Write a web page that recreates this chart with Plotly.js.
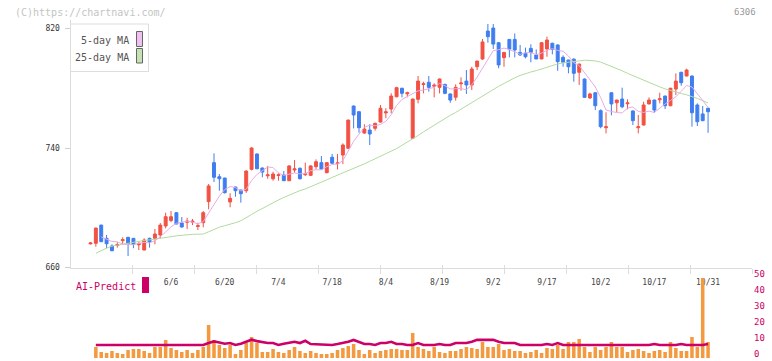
<!DOCTYPE html>
<html><head><meta charset="utf-8">
<script src="https://cdn.plot.ly/plotly-3.0.1.min.js"></script>
<style>html,body{margin:0;padding:0;background:#fff;}#chart{width:772px;height:361px;}</style>
</head><body><div id="chart"></div>
<script>
const dates = ["5/16","5/19","5/20","5/21","5/22","5/23","5/26","5/27","5/28","5/29","5/30",
"6/2","6/3","6/4","6/5","6/6","6/9","6/10","6/11","6/12","6/13","6/16","6/17","6/18","6/19","6/20","6/23","6/24","6/25","6/26","6/27","6/30",
"7/1","7/2","7/3","7/4","7/7","7/8","7/9","7/10","7/11","7/14","7/15","7/16","7/17","7/18","7/22","7/23","7/24","7/25","7/28","7/29","7/30","7/31",
"8/1","8/4","8/5","8/6","8/7","8/8","8/12","8/13","8/14","8/15","8/18","8/19","8/20","8/21","8/22","8/25","8/26","8/27","8/28","8/29",
"9/1","9/2","9/3","9/4","9/5","9/8","9/9","9/10","9/11","9/12","9/16","9/17","9/18","9/19","9/22","9/24","9/25","9/26","9/29","9/30",
"10/1","10/2","10/3","10/6","10/7","10/8","10/9","10/10","10/14","10/15","10/16","10/17","10/20","10/21","10/22","10/23","10/24","10/27","10/28","10/29","10/30","10/31"];

const open = [675.8,676.2,688.4,679.5,674.4,674.8,678.0,680.2,679.5,675.2,
671.7,679.5,679.5,681.8,687.8,691.5,696.7,689.8,690.3,690.4,
687.5,690.0,704.1,730.2,720.8,719.9,703.9,713.9,711.9,711.4,
725.7,736.0,726.6,721.4,719.4,721.6,721.9,718.1,725.3,726.4,
722.1,721.7,727.5,730.2,723.5,733.8,729.5,735.3,739.8,768.1,
764.3,750.0,752.0,753.2,757.4,763.5,766.1,774.3,780.0,776.3,
746.5,772.6,782.5,784.0,781.4,780.6,782.6,776.2,774.0,783.0,
784.8,782.2,794.4,799.6,818.3,820.3,810.5,800.5,812.7,812.7,
804.0,803.4,806.7,802.3,799.6,806.3,810.1,809.0,800.7,798.9,
799.5,790.7,786.2,773.5,777.0,765.0,753.6,777.0,770.3,772.8,
769.6,764.8,753.6,755.4,769.5,772.1,772.3,774.8,768.3,779.5,
790.7,788.2,788.2,768.8,762.8,766.6];

const high = [677.0,686.6,688.6,681.8,675.5,676.9,680.2,680.5,679.7,677.3,
679.5,680.0,685.8,689.8,696.7,697.8,697.0,693.8,693.3,692.5,
690.0,697.8,715.9,736.4,722.6,720.0,709.7,714.0,712.0,725.0,
740.5,736.3,727.0,728.0,724.1,723.1,724.6,728.5,732.0,727.0,
730.2,728.5,732.4,734.6,730.5,736.0,736.0,743.1,759.0,768.5,
764.5,755.9,755.9,757.0,768.8,766.6,776.6,781.0,780.3,777.7,
773.0,788.2,784.4,788.2,783.3,786.5,783.0,776.5,782.6,787.3,
792.2,794.4,798.5,813.0,823.0,823.0,811.0,804.3,813.0,816.7,
809.0,807.2,809.4,806.0,811.0,814.5,810.5,809.3,802.0,799.0,
800.0,796.5,786.5,777.0,777.2,765.9,763.9,777.2,772.3,780.4,
772.6,765.2,762.1,771.0,773.9,772.4,777.0,775.0,780.3,790.0,
791.0,793.1,788.5,769.9,768.1,767.0];

const low = [675.5,673.9,677.0,672.9,671.0,673.3,675.7,667.7,672.9,671.7,
671.5,673.3,675.5,679.5,686.2,690.3,689.0,686.8,685.8,688.4,
685.1,686.9,699.0,717.2,711.4,709.5,700.3,707.4,703.4,710.0,
725.0,725.8,720.4,719.4,718.1,718.1,718.0,718.0,723.5,719.0,
721.3,721.5,725.7,725.5,723.0,729.5,725.7,729.3,739.5,753.1,
750.2,749.5,742.0,751.6,757.0,759.9,763.2,774.0,773.9,773.9,
746.0,769.9,776.6,777.7,773.9,776.6,776.0,770.3,771.7,778.4,
776.2,778.8,792.2,799.0,810.5,806.3,793.4,794.4,800.7,800.7,
801.6,800.0,797.4,799.5,799.5,801.1,802.7,791.7,794.4,790.0,
784.4,782.2,773.5,773.0,765.4,753.2,749.8,761.9,763.9,766.6,
765.9,755.4,749.8,755.0,769.2,763.6,769.9,766.1,768.0,775.5,
781.7,788.0,754.3,754.7,758.0,750.2];

const close = [676.4,686.4,677.3,675.9,671.2,675.3,678.6,675.7,675.5,676.0,
678.4,677.1,682.4,688.4,694.0,694.0,689.1,687.1,691.0,691.0,
688.0,696.7,714.6,720.4,719.4,710.1,706.3,711.4,709.4,724.6,
740.0,726.1,723.9,722.0,722.6,722.0,718.1,728.0,726.0,719.4,
722.7,728.0,730.8,725.9,730.2,729.8,730.0,742.0,758.7,762.1,
753.6,752.7,749.4,756.5,766.6,764.2,774.8,780.4,776.6,777.0,
772.8,784.8,783.0,780.6,782.0,786.2,776.6,772.1,780.6,783.5,
782.2,792.9,798.2,811.0,814.5,809.6,795.6,804.0,806.1,805.6,
802.3,801.1,804.0,799.6,810.5,812.3,806.1,797.8,797.4,794.4,
790.0,796.2,773.9,776.2,768.3,754.3,754.2,769.5,772.1,767.6,
770.2,758.3,754.2,768.8,772.1,765.4,773.0,768.3,780.0,784.8,
783.7,792.2,763.6,757.6,758.3,764.3];

const ma5 = [null,null,680.5,679.0,677.4,677.2,675.7,675.3,675.3,676.2,
676.8,676.5,677.9,680.5,684.1,687.2,689.6,690.5,691.0,690.4,
689.2,690.8,696.3,702.1,707.8,712.2,714.2,713.5,711.3,712.4,
718.3,722.3,724.8,727.3,726.9,723.3,721.7,722.5,723.3,722.7,
722.8,724.8,725.4,725.4,727.5,728.9,729.3,731.6,738.1,744.5,
749.3,753.8,755.3,754.9,755.8,757.9,762.3,768.5,772.5,774.6,
776.3,778.3,778.8,779.6,780.6,783.3,781.7,779.5,779.5,779.8,
779.0,782.3,787.5,793.6,799.8,805.2,805.8,806.9,806.0,804.2,
802.7,803.8,803.8,802.5,803.5,805.5,806.5,805.3,804.8,801.6,
797.1,795.2,790.4,786.1,780.9,773.8,765.4,764.5,763.7,763.5,
766.7,767.5,764.5,763.8,764.7,763.8,766.7,769.5,771.8,774.3,
778.0,781.8,780.9,776.4,771.1,767.2];

const ma25 = [null,669.5,671.5,673.0,674.3,675.0,675.7,676.4,677.0,677.5,
678.1,678.5,678.9,679.4,680.0,680.6,681.2,681.7,682.1,682.2,
682.3,682.4,683.9,685.6,687.0,688.0,688.8,690.0,691.3,693.2,
695.5,697.6,699.6,701.5,703.4,705.2,706.9,708.6,710.2,711.5,
712.6,714.0,715.7,717.2,718.7,720.3,721.8,723.0,724.4,726.0,
727.6,729.4,731.1,732.8,734.6,736.0,737.5,739.6,741.8,743.9,
746.1,748.4,750.8,753.0,755.4,757.9,760.1,761.9,763.8,766.0,
768.2,770.5,772.8,775.0,777.1,779.3,781.3,783.2,785.3,787.0,
788.6,789.9,790.9,791.8,792.9,794.4,795.6,796.3,797.0,797.6,
797.9,798.3,798.8,798.7,798.3,797.5,796.1,794.8,793.4,791.7,
790.0,788.5,786.7,785.0,783.5,782.2,780.9,779.6,778.4,777.5,
776.5,775.6,774.6,773.2,771.7,770.2];

const volume = [null,6.8,3.7,3.1,4.3,3.1,2.5,5.0,5.6,5.6,
4.3,3.1,6.8,6.8,11.2,6.2,5.0,3.7,5.0,3.1,
5.0,6.8,20.5,11.2,8.1,6.2,8.1,2.5,5.0,9.3,
13.0,9.3,3.7,3.7,5.6,3.7,3.1,5.0,6.8,4.3,
3.1,4.3,3.1,2.5,2.5,3.1,5.0,6.2,7.5,8.7,
5.0,2.5,5.0,3.1,4.3,5.0,5.6,5.6,5.0,5.0,
15.5,6.8,5.6,4.3,6.8,3.7,3.1,4.3,4.3,5.6,
6.8,6.2,5.6,9.9,6.8,6.8,8.7,5.0,5.6,4.3,
4.3,3.1,3.7,5.0,3.1,6.2,5.6,8.1,5.6,9.9,
9.9,11.8,6.8,3.7,6.8,5.0,6.8,9.9,6.8,6.8,
3.7,5.0,5.6,4.3,3.1,4.3,5.0,3.7,9.9,6.2,
4.3,4.3,13.0,6.8,49.7,9.9];

const aiPredict = [null,8.1,8.1,8.1,8.1,8.1,8.1,8.1,8.1,8.1,
8.1,8.1,8.1,8.1,8.1,8.1,8.1,8.1,8.1,8.1,
8.1,8.1,9.3,10.3,9.7,8.9,9.3,8.1,8.9,10.1,
11.4,10.5,9.7,9.3,9.3,8.1,8.9,9.3,10.1,9.3,
10.7,8.7,8.5,8.1,8.1,8.1,8.7,9.3,10.1,11.2,
10.1,8.7,8.7,8.1,9.3,9.3,10.1,8.7,8.7,8.1,
8.1,9.3,8.1,8.1,8.1,8.7,8.1,8.1,9.3,9.3,
9.3,10.1,11.3,11.3,11.3,11.3,10.1,9.3,9.3,9.3,
8.1,8.1,8.1,8.1,8.1,8.7,8.1,9.3,8.1,8.1,
8.1,8.1,8.1,8.1,8.1,8.1,8.1,8.1,8.1,8.1,
8.1,8.1,8.1,8.1,8.1,8.7,8.1,8.1,8.1,8.1,
8.7,8.1,8.1,8.1,8.1,8.7];

const dateTicks = ["6/6","6/20","7/4","7/18","8/4","8/19","9/2","9/17","10/2","10/17","10/31"];
const priceTicks = [660,740,820];
const volTicks = [0,10,20,30,40,50];
const gridTicks = [1,2,3,4,5,6,7,8,9,10,11];

const W = 772, H = 361;
const px = v => v / W;
const py = v => 1 - v / H;
const FONT = "DejaVu Sans Mono, Liberation Mono, monospace";
const RED = "#f25143", BLUE = "#3f7ef0";

const traces = [
  {type:"scatter", mode:"lines", x:dates, y:ma25, xaxis:"x", yaxis:"y",
   line:{color:"#b3da9f", width:1}, hoverinfo:"skip", connectgaps:false},
  {type:"scatter", mode:"lines", x:dates, y:ma5, xaxis:"x", yaxis:"y",
   line:{color:"#e6ace6", width:1}, hoverinfo:"skip", connectgaps:false},
  {type:"candlestick", x:dates, open:open, high:high, low:low, close:close,
   xaxis:"x", yaxis:"y", whiskerwidth:0,
   increasing:{line:{color:RED, width:1}, fillcolor:RED},
   decreasing:{line:{color:BLUE, width:1}, fillcolor:BLUE},
   hoverinfo:"skip"},
  {type:"bar", x:dates, y:volume, xaxis:"x", yaxis:"y2", width:0.66,
   marker:{color:"#f39a40", line:{width:0}}, hoverinfo:"skip"},
  {type:"scatter", mode:"lines", x:dates, y:aiPredict, xaxis:"x", yaxis:"y2",
   line:{color:"#cc0066", width:2.6}, hoverinfo:"skip"},
  {type:"scatter", mode:"markers", x:[0], y:[700], xaxis:"x3", yaxis:"y",
   marker:{opacity:0}, hoverinfo:"skip"},
  {type:"scatter", mode:"markers", x:[0], y:[700], xaxis:"x4", yaxis:"y",
   marker:{opacity:0}, hoverinfo:"skip"}
];

const xdom = [px(70.5), px(752)];
const layout = {
  width:W, height:H, margin:{l:0,r:0,t:0,b:0},
  paper_bgcolor:"#fff", plot_bgcolor:"rgba(0,0,0,0)",
  showlegend:false, boxgap:0.22, bargap:0.3,
  font:{family:FONT, size:10, color:"#444"},
  xaxis:{type:"category", categoryorder:"array", categoryarray:dates,
    domain:xdom, range:[-3.72, 123.18], autorange:false, anchor:"y",
    rangeslider:{visible:false}, showgrid:false, zeroline:false,
    showline:true, linecolor:"#dcdcdc", linewidth:1,
    ticks:"", tickmode:"array", tickvals:dateTicks, ticktext:dateTicks,
    tickfont:{family:FONT, size:8, color:"#444"}, ticklabelstandoff:7, fixedrange:true},
  xaxis3:{overlaying:"x", anchor:"y", range:[0,11], autorange:false,
    tickmode:"array", tickvals:gridTicks, ticks:"outside", ticklen:5, tickwidth:1,
    tickcolor:"#dcdcdc", showticklabels:false, showline:false, showgrid:false, zeroline:false},
  xaxis4:{overlaying:"x", anchor:"y", range:[0,11], autorange:false,
    tickmode:"array", tickvals:gridTicks, ticks:"inside", ticklen:3, tickwidth:1,
    tickcolor:"#dcdcdc", showticklabels:false, showline:false, showgrid:false, zeroline:false},
  yaxis:{domain:[py(267.5), py(20)], range:[660, 825.7], autorange:false, anchor:"x",
    tickmode:"array", tickvals:priceTicks, ticks:"outside", ticklen:5, tickcolor:"#cfcfcf",
    showline:true, linecolor:"#dcdcdc", linewidth:1, showgrid:false, zeroline:false,
    tickfont:{family:FONT, size:8, color:"#333"}, ticklabelstandoff:3, fixedrange:true},
  yaxis2:{domain:[py(360), py(272)], range:[-1.24, 53.5], autorange:false, anchor:"x", side:"right",
    tickmode:"array", tickvals:volTicks, ticks:"", showline:false, showgrid:false, zeroline:false,
    ticklabeloverflow:"allow", ticklabelshift:-4,
    tickfont:{family:FONT, size:9, color:"#cc0066"}, ticklabelstandoff:1, fixedrange:true},
  shapes:[
    {type:"rect", xref:"paper", yref:"paper", x0:px(70.5), x1:px(148.5), y0:py(71.5), y1:py(24),
     line:{color:"#dddddd", width:1}, fillcolor:"#ffffff", layer:"above"},
    {type:"rect", xref:"paper", yref:"paper", x0:px(136.5), x1:px(142.5), y0:py(46.5), y1:py(31.5),
     line:{color:"#666666", width:1}, fillcolor:"#f0c0f0", layer:"above"},
    {type:"rect", xref:"paper", yref:"paper", x0:px(136.5), x1:px(142.5), y0:py(63), y1:py(48.5),
     line:{color:"#666666", width:1}, fillcolor:"#c4e2b2", layer:"above"},
    {type:"rect", xref:"paper", yref:"paper", x0:px(142), x1:px(149), y0:py(293), y1:py(277),
     line:{width:0}, fillcolor:"#cc0066", layer:"above"}
  ],
  annotations:[
    {xref:"paper", yref:"paper", x:px(13), y:py(12), xanchor:"left", yanchor:"middle",
     text:"(C)https://chartnavi.com/", showarrow:false, font:{family:FONT, size:10, color:"#c4c4c4"}},
    {xref:"paper", yref:"paper", x:px(758), y:py(12), xanchor:"right", yanchor:"middle",
     text:"6306", showarrow:false, font:{family:FONT, size:9, color:"#999"}},
    {xref:"paper", yref:"paper", x:px(131), y:py(40), xanchor:"right", yanchor:"middle",
     text:"5-day MA", showarrow:false, font:{family:FONT, size:10, color:"#555"}},
    {xref:"paper", yref:"paper", x:px(131), y:py(57), xanchor:"right", yanchor:"middle",
     text:"25-day MA", showarrow:false, font:{family:FONT, size:10, color:"#555"}},
    {xref:"paper", yref:"paper", x:px(74), y:py(286), xanchor:"left", yanchor:"middle",
     text:"AI-Predict", showarrow:false, font:{family:FONT, size:10, color:"#cc0066"}}
  ]
};

Plotly.newPlot("chart", traces, layout, {staticPlot:true, displayModeBar:false});
</script>
</body></html>
